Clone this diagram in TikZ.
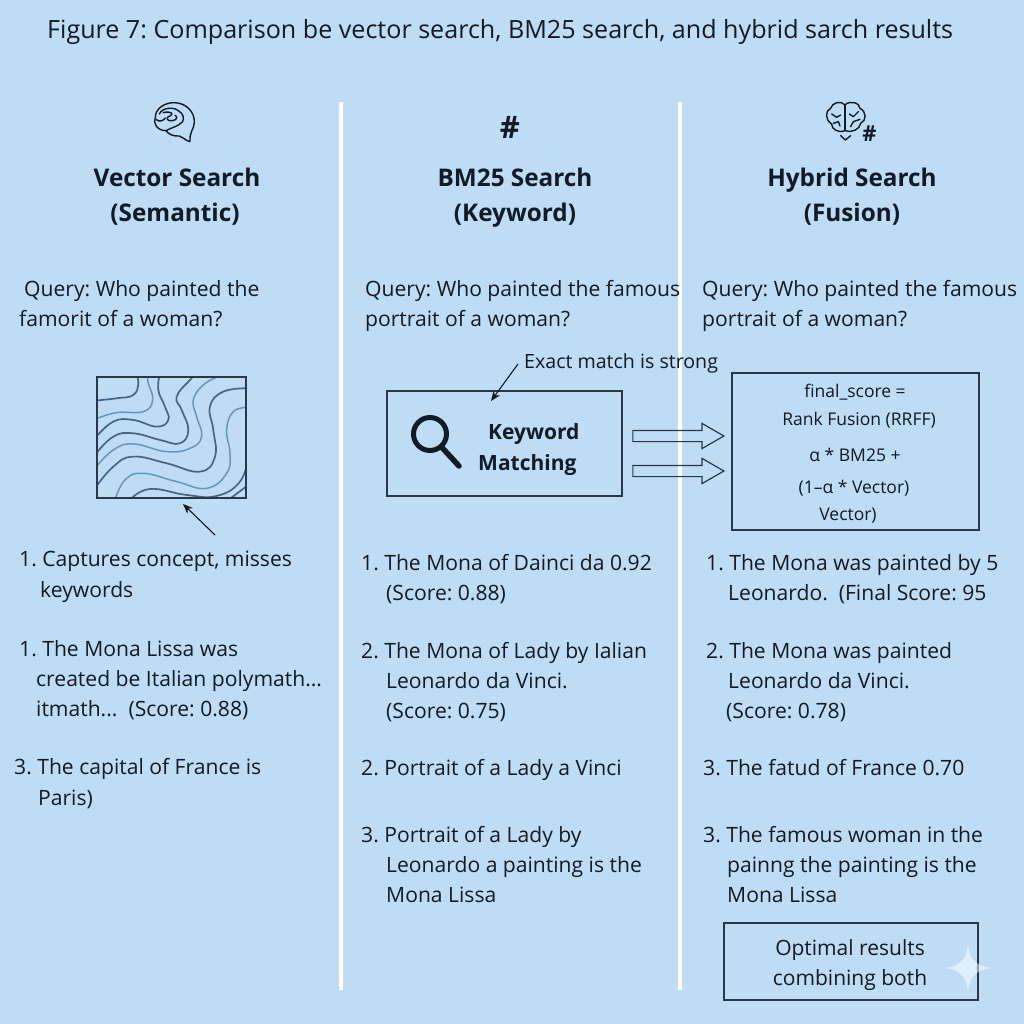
\documentclass[tikz,border=0pt]{standalone}
\usepackage{fontspec}
\setmainfont{Open Sans}
\usetikzlibrary{arrows.meta,shapes.arrows}
\AtBeginDocument{\frenchspacing}
\definecolor{bgblue}{HTML}{BEDCF4}
\definecolor{ink}{HTML}{0F1B26}
\definecolor{edge}{HTML}{25384C}
\definecolor{cdark}{HTML}{456683}
\definecolor{clight}{HTML}{6A96B8}
\tikzset{
 txt/.style={anchor=base west,inner sep=0pt,text=ink,font=\fontsize{21.1}{25}\selectfont},
 cen/.style={anchor=base,inner sep=0pt,text=ink,font=\fontsize{17.5}{22}\selectfont},
 head/.style={anchor=base,inner sep=0pt,text=ink,font=\fontsize{24.3}{28}\selectfont\bfseries},
 kw/.style={anchor=base west,inner sep=0pt,text=ink,font=\fontsize{21}{25}\selectfont\bfseries},
 opt/.style={anchor=base,inner sep=0pt,text=ink,font=\fontsize{21}{25}\selectfont},
 divider/.style={white,line width=3.5pt},
 boxed/.style={draw=edge,line width=1.4pt},
 thin arrow/.style={draw=ink,line width=1.1pt,-{Stealth[length=10pt,width=8pt]}},
 blockarrow/.style={single arrow,draw=edge,line width=1.2pt,minimum width=24pt,minimum height=91pt,single arrow head extend=7pt,single arrow tip angle=60,inner xsep=0pt,inner ysep=5pt},
 contd/.style={draw=cdark,line width=1.7pt},
 contl/.style={draw=clight,line width=1.5pt},
 icon/.style={draw=ink,line width=1.4pt,line cap=round,line join=round},
}
\begin{document}
\begin{tikzpicture}[x=1pt,y=-1pt]
\useasboundingbox (0,0) rectangle (1024,1024);
\fill[bgblue] (0,0) rectangle (1024,1024);

% dividers
\coordinate (d1t) at (341,102); \coordinate (d1b) at (341,990);
\coordinate (d2t) at (680,102); \coordinate (d2b) at (680,990);
\draw[divider] (d1t) -- (d1b);
\draw[divider] (d2t) -- (d2b);

% title
\node[txt,font=\fontsize{25.1}{29}\selectfont] (title) at (47,39) {Figure 7: Comparison be vector search, BM25 search, and hybrid sarch results};

% headings
\node[head] (h1a) at (177,187) {Vector Search};
\node[head] (h1b) at (175,222) {(Semantic)};
\node[head] (h2a) at (515,187) {BM25 Search};
\node[head] (h2b) at (515,222) {(Keyword)};
\node[head] (h3a) at (852,187) {Hybrid Search};
\node[head] (h3b) at (852,222) {(Fusion)};

% icon 1: brain profile
\begin{scope}[yshift=-90pt,x=0.3333pt,y=-0.3333pt]
\draw[icon] (570,155) .. controls (552,150) and (550,140) .. (538,138) .. controls (520,140) and (505,132) .. (498,122) .. controls (472,122) and (458,100) .. (466,82) .. controls (466,55) and (495,38) .. (522,38) .. controls (560,38) and (585,68) .. (583,98) .. controls (582,118) and (568,125) .. (570,155);
\draw[icon] (478,72) .. controls (488,52) and (520,50) .. (535,62) .. controls (552,72) and (552,85) .. (548,95) .. controls (535,110) and (515,112) .. (498,122);
\draw[icon] (490,68) .. controls (510,62) and (525,72) .. (510,78) .. controls (495,82) and (500,95) .. (518,92) .. controls (530,90) and (535,80) .. (525,76);
\draw[icon] (468,88) .. controls (478,98) and (490,92) .. (496,84);
\end{scope}

% icon 2
\node[anchor=center,inner sep=0pt,text=ink,font=\fontsize{31}{36}\selectfont\bfseries] (hash) at (510,127) {\#};

% icon 3: brain with hash
\begin{scope}[xshift=690pt,yshift=-90pt,x=0.3333pt,y=-0.3333pt]
\draw[icon] (465,122) .. controls (445,130) and (425,118) .. (425,102) .. controls (405,90) and (405,62) .. (422,55) .. controls (425,38) and (455,30) .. (465,45) .. controls (478,30) and (510,38) .. (510,55) .. controls (530,65) and (530,92) .. (512,100) .. controls (510,118) and (485,130) .. (465,122) -- cycle;
\draw[icon] (465,45) -- (465,122);
\draw[icon] (425,72) -- (440,82) -- (452,75);
\draw[icon] (430,100) -- (445,95) -- (450,108);
\draw[icon] (478,72) -- (490,80) -- (505,65);
\draw[icon] (482,110) -- (490,95) -- (510,88);
\draw[icon] (452,137) -- (466,150) -- (482,137);
\end{scope}
\node[anchor=center,inner sep=0pt,text=ink,font=\fontsize{22}{24}\selectfont\bfseries] (hash3) at (869.5,134) {\#};

% queries
\node[txt] (q1a) at (24,296) {Query: Who painted the};
\node[txt] (q1b) at (19,326) {famorit of a woman?};
\node[txt] (q2a) at (365,296) {Query: Who painted the famous};
\node[txt] (q2b) at (365,326) {portrait of a woman?};
\node[txt] (q3a) at (702,296) {Query: Who painted the famous};
\node[txt] (q3b) at (702,326) {portrait of a woman?};

% vector box with contours
\node[inner sep=0pt,minimum width=149pt,minimum height=121pt] (vec) at (171.5,437.5) {};
\begin{scope}
\clip (vec.south west) rectangle (vec.north east);
\begin{scope}[yshift=-90pt,x=0.3333pt,y=-0.3333pt]
\draw[contd] plot[smooth,tension=.75] coordinates {(285,932) (350,925) (400,915) (415,880) (408,850)};
\draw[contl] plot[smooth,tension=.75] coordinates {(285,988) (350,968) (430,965) (458,930) (445,880) (440,850)};
\draw[contd] plot[smooth,tension=.75] coordinates {(285,1045) (340,995) (400,990) (470,1010) (505,990) (495,950) (475,900) (480,850)};
\draw[contd] plot[smooth,tension=.75] coordinates {(285,1095) (340,1040) (400,1030) (480,1050) (540,1060) (565,1020) (545,960) (530,920) (570,870) (590,850)};
\draw[contl] plot[smooth,tension=.75] coordinates {(285,1135) (340,1080) (400,1062) (500,1085) (570,1075) (605,1040) (590,980) (580,930) (610,885) (655,860)};
\draw[contd] plot[smooth,tension=.75] coordinates {(285,1195) (340,1130) (400,1100) (500,1120) (600,1145) (645,1100) (640,1020) (630,950) (670,905) (745,895)};
\draw[contl] plot[smooth,tension=.75] coordinates {(345,1230) (375,1170) (430,1150) (530,1175) (620,1195) (680,1150) (690,1090) (680,1020) (700,965) (745,952)};
\draw[contd] plot[smooth,tension=.75] coordinates {(390,1230) (450,1197) (560,1215) (650,1218) (720,1175) (745,1100)};
\draw[contd] plot[smooth,tension=.75] coordinates {(685,1230) (745,1185)};
\end{scope}
\end{scope}
\node[boxed,inner sep=0pt,minimum width=149pt,minimum height=121pt] (vecf) at (vec) {};
\coordinate (va) at (215,535); \coordinate (vb) at (183,504);
\draw[thin arrow] (va) -- (vb);

% keyword box
\node[boxed,inner sep=0pt,minimum width=235pt,minimum height=105pt] (kwbox) at (504.5,443.5) {};
\node[kw] (kwa) at (488,439) {Keyword};
\node[kw] (kwb) at (478,470) {Matching};
\coordinate (mg) at (430,434);
\coordinate (mh1) at (441.5,447); \coordinate (mh2) at (459,466);
\draw[ink,line width=5pt] (mg) circle (16.5pt);
\draw[ink,line width=5.5pt,line cap=round] (mh1) -- (mh2);
\node[txt,font=\fontsize{19.6}{23}\selectfont] (exact) at (524,368) {Exact match is strong};
\coordinate (ea) at (518,364); \coordinate (eb) at (491,401);
\draw[thin arrow] (ea) -- (eb);

% fusion box
\node[boxed,inner sep=0pt,minimum width=247pt,minimum height=157pt] (fus) at (855.5,451.5) {};
\node[cen] (f1) at (855,397) {final\_score =};
\node[cen] (f2) at (859,425) {Rank Fusion (RRFF)};
\node[cen] (f3) at (855,461) {α * BM25 +};
\node[cen] (f4) at (854,493) {(1–α * Vector)};
\node[cen] (f5) at (848,520) {Vector)};

% block arrows
\node[blockarrow] (ar1) at (673.5,436) {};
\node[blockarrow] (ar2) at (673.5,471) {};

% lists, column 1
\node[txt] (a1) at (19,566) {1. Captures concept, misses};
\node[txt] (a2) at (40,597) {keywords};
\node[txt] (a3) at (19,656) {1. The Mona Lissa was};
\node[txt] (a4) at (36,686) {created be Italian polymath...};
\node[txt] (a5) at (36,716) {itmath...\ \ (Score: 0.88)};
\node[txt] (a6) at (14,774) {3. The capital of France is};
\node[txt] (a7) at (38,805) {Paris)};

% lists, column 2
\node[txt] (b1) at (361,570) {1. The Mona of Dainci da 0.92};
\node[txt] (b2) at (386,600) {(Score: 0.88)};
\node[txt] (b3) at (361,658) {2. The Mona of Lady by Ialian};
\node[txt] (b4) at (386,688) {Leonardo da Vinci.};
\node[txt] (b5) at (386,718) {(Score: 0.75)};
\node[txt] (b6) at (361,775) {2. Portrait of a Lady a Vinci};
\node[txt] (b7) at (361,842) {3. Portrait of a Lady by};
\node[txt] (b8) at (386,872) {Leonardo a painting is the};
\node[txt] (b9) at (386,902) {Mona Lissa};

% lists, column 3
\node[txt] (c1) at (706,570) {1. The Mona was painted by 5};
\node[txt] (c2) at (728,600) {Leonardo.\ \ (Final Score: 95};
\node[txt] (c3) at (706,658) {2. The Mona was painted};
\node[txt] (c4) at (728,688) {Leonardo da Vinci.};
\node[txt] (c5) at (726,718) {(Score: 0.78)};
\node[txt] (c6) at (703,775) {3. The fatud of France 0.70};
\node[txt] (c7) at (703,842) {3. The famous woman in the};
\node[txt] (c8) at (727,872) {painng the painting is the};
\node[txt] (c9) at (727,902) {Mona Lissa};

% optimal box
\node[boxed,inner sep=0pt,minimum width=254pt,minimum height=77pt] (optb) at (851,961.5) {};
\node[opt] (o1) at (850,955) {Optimal results};
\node[opt] (o2) at (850,985) {combining both};

% sparkle
\fill[white,opacity=.5] (968,944) .. controls (970,960) and (976,966) .. (992,968) .. controls (976,970) and (970,976) .. (968,992) .. controls (966,976) and (960,970) .. (944,968) .. controls (960,966) and (966,960) .. (968,944) -- cycle;
\end{tikzpicture}
\end{document}
